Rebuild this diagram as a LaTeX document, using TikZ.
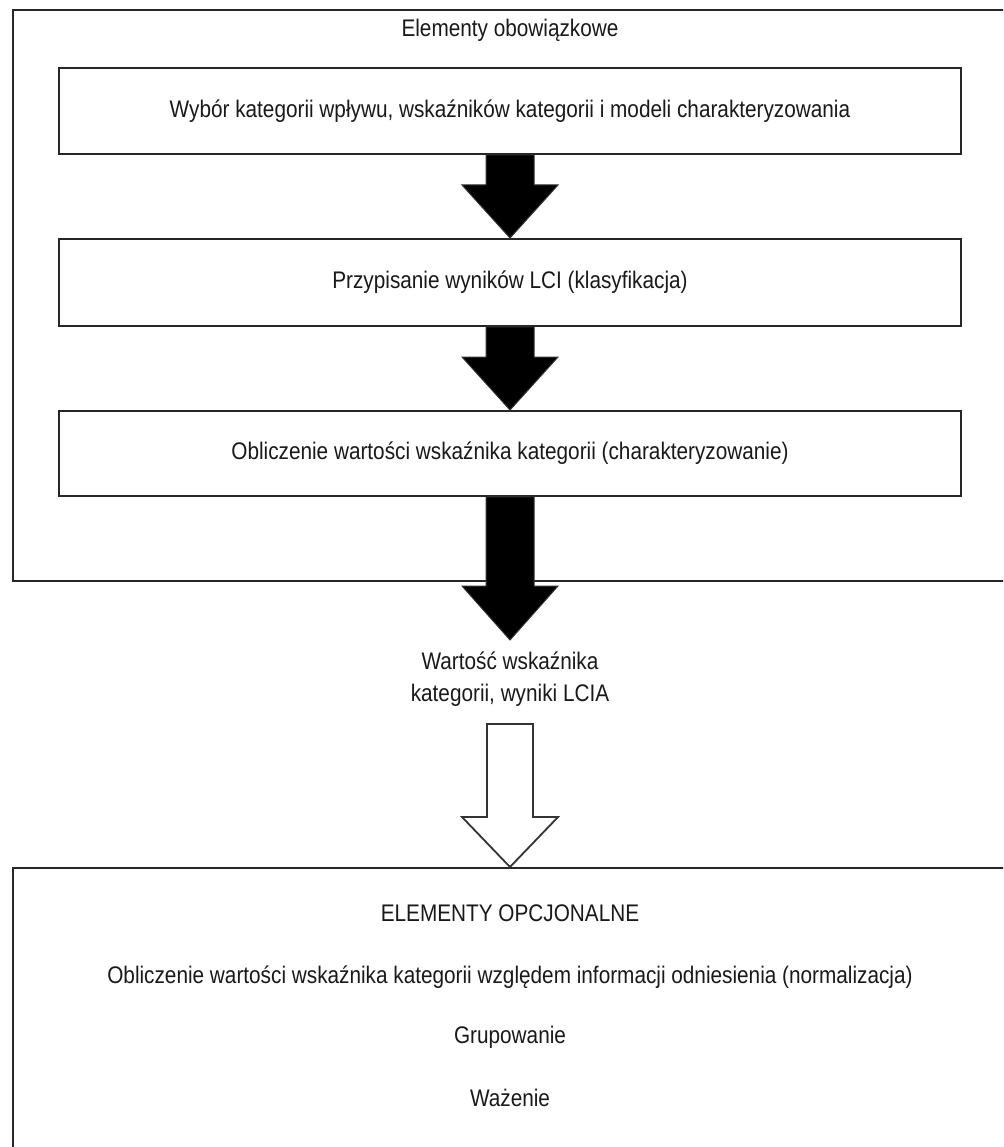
\documentclass[tikz,border=0pt]{standalone}
\usepackage{fontspec}
\newfontfamily\narrowsans{Liberation Sans}[FakeStretch=0.865]
\usetikzlibrary{calc}
\tikzset{
  box/.style={draw=black!85, line width=1.8pt, fill=white, minimum width=902pt, minimum height=86pt, inner sep=0pt},
  lbl/.style={inner sep=0pt, font=\narrowsans\fontsize{24}{30}\selectfont, text=black!90},
  solidarrow/.style={fill=black, draw=black!80, line width=1pt, line join=miter},
  hollowarrow/.style={fill=white, draw=black!80, line width=1.8pt, line join=miter},
  frame/.style={draw=black!85, line width=1.8pt}
}
\begin{document}
\begin{tikzpicture}[x=1pt,y=-1pt]
\useasboundingbox (0,0) rectangle (1003,1147);
\clip (0,0) rectangle (1003,1147);
% outer frame (mandatory)
\node[frame, minimum width=1000pt, minimum height=571pt, anchor=north west, inner sep=0pt] (outer) at (12,9) {};
\node[lbl] (title) at (510,30) {Elementy obowiązkowe};
% boxes
\node[box, minimum height=86pt, anchor=north] (b1) at (510,67) {};
\node[lbl] (t1) at (b1.center) {Wybór kategorii wpływu, wskaźników kategorii i modeli charakteryzowania};
\node[box, minimum height=87pt, anchor=north] (b2) at (510,238) {};
\node[lbl] (t2) at (b2.center) {Przypisanie wyników LCI (klasyfikacja)};
\node[box, minimum height=85pt, anchor=north] (b3) at (510,410) {};
\node[lbl] (t3) at (b3.center) {Obliczenie wartości wskaźnika kategorii (charakteryzowanie)};
% solid arrows
\draw[solidarrow] ($(b1.south)+(-24,0)$) -- ($(b1.south)+(24,0)$) -- ($(b2.north)+(24,-53)$) -- ($(b2.north)+(48,-53)$) -- (b2.north) -- ($(b2.north)+(-48,-53)$) -- ($(b2.north)+(-24,-53)$) -- cycle;
\draw[solidarrow] ($(b2.south)+(-24,0)$) -- ($(b2.south)+(24,0)$) -- ($(b3.north)+(24,-53)$) -- ($(b3.north)+(48,-53)$) -- (b3.north) -- ($(b3.north)+(-48,-53)$) -- ($(b3.north)+(-24,-53)$) -- cycle;
\coordinate (tip3) at (510,640);
\draw[solidarrow] ($(b3.south)+(-24,0)$) -- ($(b3.south)+(24,0)$) -- ($(tip3)+(24,-54)$) -- ($(tip3)+(48,-54)$) -- (tip3) -- ($(tip3)+(-48,-54)$) -- ($(tip3)+(-24,-54)$) -- cycle;
% result text
\node[lbl, align=center] (res) at (510,679) {Wartość wskaźnika\\[2pt]kategorii, wyniki LCIA};
% optional box
\node[frame, minimum width=1000pt, minimum height=300pt, anchor=north west, inner sep=0pt] (opt) at (12,867) {};
\coordinate (tip4) at (510,867);
\coordinate (tail4) at (510,724);
\draw[hollowarrow] ($(tail4)+(-23,0)$) -- ($(tail4)+(23,0)$) -- ($(tip4)+(23,-50)$) -- ($(tip4)+(48,-50)$) -- (tip4) -- ($(tip4)+(-48,-50)$) -- ($(tip4)+(-23,-50)$) -- cycle;
\node[lbl] (o1) at (510,913) {ELEMENTY OPCJONALNE};
\node[lbl] (o2) at (510,977) {Obliczenie wartości wskaźnika kategorii względem informacji odniesienia (normalizacja)};
\node[lbl] (o3) at (510,1037) {Grupowanie};
\node[lbl] (o4) at (510,1098) {Ważenie};
\end{tikzpicture}
\end{document}
